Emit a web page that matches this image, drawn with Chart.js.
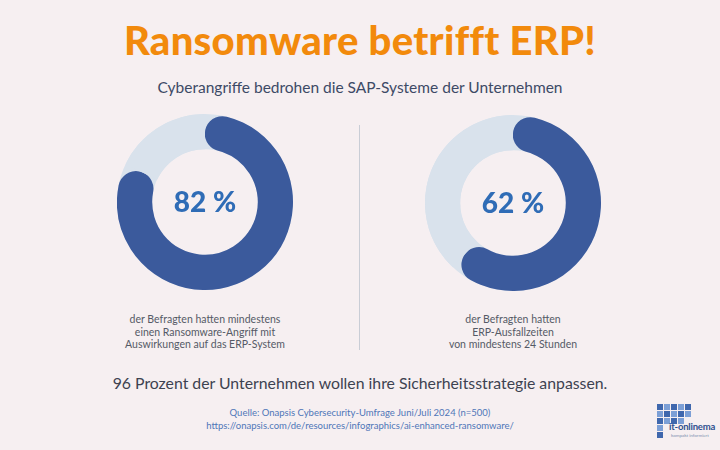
<!DOCTYPE html>
<html lang="de">
<head>
<meta charset="utf-8">
<title>Ransomware betrifft ERP!</title>
<script src="https://cdn.jsdelivr.net/npm/chart.js@4"></script>
<style>
	html, body { margin: 0; padding: 0; }
	body {
		width: 720px; height: 450px; position: relative; overflow: hidden;
		background: #f6eff1; font-family: Lato, sans-serif;
	}
	.abs { position: absolute; left: 0; width: 720px; text-align: center; }
	#title { top: 16px; font-size: 40px; line-height: 48px; font-weight: 900; color: #f28a0c; letter-spacing: 0.3px; }
	#subtitle { top: 78px; font-size: 15.5px; color: #3d4a66; }
	.donut { position: absolute; width: 176px; height: 176px; }
	.caption { position: absolute; width: 260px; text-align: center; font-size: 10.5px; line-height: 12.5px; color: #555a66; }
	#divider { position: absolute; left: 359px; top: 125px; width: 1px; height: 225px; background: #c9cdd6; }
	#summary { top: 373px; font-size: 15.8px; color: #3d4250; }
	#source { top: 406px; font-size: 9.5px; line-height: 13px; color: #4f76b8; }
	#logo { position: absolute; left: 657px; top: 404px; width: 63px; height: 40px; }
	#logo .grid { display: grid; grid-template-columns: repeat(5, 6px); gap: 1px; }
	#logo .grid span { width: 6px; height: 6px; background: #3f67ad; }
	#logo .grid span.l { background: #7c9fd6; }
	#logo .grid span.n { background: transparent; }
	#logo .name { position: absolute; left: 12px; top: 17px; font-size: 9.5px; font-weight: 700; color: #2f4f8f; white-space: nowrap; letter-spacing: -0.2px; }
	#logo .tag { position: absolute; left: 14px; top: 29px; font-size: 4.5px; color: #7c8fb0; white-space: nowrap; }
</style>
</head>
<body>
<div id="title" class="abs">Ransomware betrifft ERP!</div>
<div id="subtitle" class="abs">Cyberangriffe bedrohen die SAP-Systeme der Unternehmen</div>

<div class="donut" style="left:117px; top:114px;"><canvas id="donutA"></canvas></div>
<div class="donut" style="left:425px; top:115px;"><canvas id="donutB"></canvas></div>
<div id="divider"></div>

<div class="caption" style="left:75px; top:313px;">der Befragten hatten mindestens<br>einen Ransomware-Angriff mit<br>Auswirkungen auf das ERP-System</div>
<div class="caption" style="left:383px; top:313px;">der Befragten hatten<br>ERP-Ausfallzeiten<br>von mindestens 24 Stunden</div>

<div id="summary" class="abs">96 Prozent der Unternehmen wollen ihre Sicherheitsstrategie anpassen.</div>
<div id="source" class="abs">Quelle: Onapsis Cybersecurity-Umfrage Juni/Juli 2024 (n=500)<br>https://onapsis.com/de/resources/infographics/ai-enhanced-ransomware/</div>

<div id="logo">
	<div class="grid">
		<span></span><span class="l"></span><span></span><span class="l"></span><span></span>
		<span class="l"></span><span></span><span class="l"></span><span></span><span class="l"></span>
		<span></span><span class="l"></span><span></span><span class="l"></span><span class="n"></span>
		<span class="l"></span><span class="n"></span><span class="n"></span><span class="n"></span><span class="n"></span>
		<span></span><span class="n"></span><span class="n"></span><span class="n"></span><span class="n"></span>
	</div>
	<div class="name">it-onlinema</div>
	<div class="tag">kompakt informiert</div>
</div>

<script>
// survey values (percent of respondents)
const ransomwareShare = [82, 18];
const downtimeShare = [62, 38];
const centerLabels = ["82 %", "62 %"];

const darkBlue = "#3b5a9c";
const lightBlue = "#d9e2ec";
const labelBlue = "#2f6cb6";

// draws the full pale track behind the ring and the percentage in the middle
const ringPlugin = {
	id: "ring",
	beforeDatasetsDraw(chart) {
		const arc = chart.getDatasetMeta(0).data[0];
		const ctx = chart.ctx;
		const mid = (arc.outerRadius + arc.innerRadius) / 2;
		ctx.save();
		ctx.beginPath();
		ctx.arc(arc.x, arc.y, mid, 0, Math.PI * 2);
		ctx.lineWidth = arc.outerRadius - arc.innerRadius;
		ctx.strokeStyle = lightBlue;
		ctx.stroke();
		ctx.restore();
	},
	afterDraw(chart) {
		const arc = chart.getDatasetMeta(0).data[0];
		const ctx = chart.ctx;
		ctx.save();
		ctx.font = "900 28px Lato, sans-serif";
		ctx.fillStyle = labelBlue;
		ctx.textAlign = "center";
		ctx.textBaseline = "middle";
		ctx.fillText(chart.options.plugins.ring.label, arc.x, arc.y + 1);
		ctx.restore();
	},
};

function createDonut(id, values, label) {
	const ctx = document.getElementById(id).getContext("2d");
	const thickness = 18;
	new Chart(ctx, {
		type: "doughnut",
		data: {
			labels: ["ja", "nein"],
			datasets: [
				{
					data: values,
					backgroundColor: [darkBlue, lightBlue],
					borderWidth: 0,
					borderRadius: [thickness, 0],
				},
			],
		},
		options: {
			responsive: true,
			maintainAspectRatio: false,
			animation: false,
			cutout: "60%",
			layout: { padding: 0 },
			plugins: {
				legend: { display: false },
				tooltip: { enabled: false },
				ring: { label: label },
			},
		},
		plugins: [ringPlugin],
	});
}

createDonut("donutA", ransomwareShare, centerLabels[0]);
createDonut("donutB", downtimeShare, centerLabels[1]);
</script>
</body>
</html>
